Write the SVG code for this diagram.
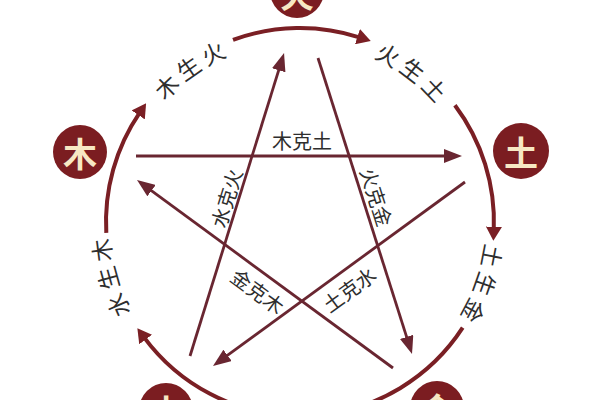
<svg xmlns="http://www.w3.org/2000/svg" width="600" height="400" viewBox="0 0 600 400">
<defs>
<style>
.ring{fill:none;stroke:#7a1f24;stroke-width:4;}
.star{fill:none;stroke:#692631;stroke-width:2.8;}
.node circle{fill:#7b1d21;}
.node text{font-family:"Noto Sans CJK SC",sans-serif;font-size:34px;font-weight:bold;fill:#f7e8c3;text-anchor:middle;dominant-baseline:central;}
.lbl{font-family:"Noto Sans CJK SC",sans-serif;font-size:20px;fill:#2e2e2e;text-anchor:middle;dominant-baseline:central;}
.rl{font-family:"Noto Sans CJK SC",sans-serif;font-size:23px;fill:#2e2e2e;letter-spacing:6px;dominant-baseline:central;}
</style>
<marker id="ra" markerUnits="userSpaceOnUse" markerWidth="14" markerHeight="16" refX="3" refY="8" orient="auto"><path d="M0,0 L14,8 L0,16 z" fill="#7a1f24"/></marker>
<marker id="sa" markerUnits="userSpaceOnUse" markerWidth="18" markerHeight="14" refX="4" refY="7" orient="auto"><path d="M0,0 L18,7 L0,14 z" fill="#692631"/></marker>
<path id="p1" d="M126.9,141.3 A191,191 0 0 1 283.3,31.7"/>
<path id="p2" d="M324.8,33.6 A190,190 0 0 1 475.5,149.3"/>
<path id="p3" d="M492.7,186.3 A196,196 0 0 1 427.3,371.0"/>
<path id="p4" d="M159.1,365.4 A201,201 0 0 1 105.4,171.7"/>
</defs>
<rect width="600" height="400" fill="#ffffff"/>
<g id="connectors">
<path class="ring" d="M106.3,232.8 A194,194 0 0 1 139.9,112.4" marker-end="url(#ra)"/>
<path class="ring" d="M233,39.9 A194,194 0 0 1 360.3,37.6" marker-end="url(#ra)"/>
<path class="ring" d="M454.9,105.3 A194,194 0 0 1 493.8,229.8" marker-end="url(#ra)"/>
<path class="ring" d="M462.7,327.7 A194,194 0 0 1 143.9,337.1" marker-end="url(#ra)"/>
<path class="star" d="M136,156 L448,156" marker-end="url(#sa)"/>
<path class="star" d="M318,58 L407.8,340.7" marker-end="url(#sa)"/>
<path class="star" d="M190,356 L279.9,66.4" marker-end="url(#sa)"/>
<path class="star" d="M393,368 L148.3,188.3" marker-end="url(#sa)"/>
<path class="star" d="M465,182 L224.3,357.7" marker-end="url(#sa)"/>
</g>
<g id="ring-labels">
<text class="rl"><textPath href="#p1" startOffset="50%" text-anchor="middle">木生火</textPath></text>
<text class="rl"><textPath href="#p2" startOffset="50%" text-anchor="middle">火生土</textPath></text>
<text class="rl"><textPath href="#p3" startOffset="50%" text-anchor="middle">土生金</textPath></text>
<text class="rl"><textPath href="#p4" startOffset="50%" text-anchor="middle">水生木</textPath></text>
</g>
<g id="star-labels">
<text class="lbl" x="302" y="140">木克土</text>
<text class="lbl" transform="translate(226,198) rotate(-72.8)">水克火</text>
<text class="lbl" transform="translate(377,197) rotate(72.4)">火克金</text>
<text class="lbl" transform="translate(258,291) rotate(36.3)">金克木</text>
<text class="lbl" transform="translate(349,289) rotate(-36.1)">土克水</text>
</g>
<g id="node-fire" class="node"><circle cx="297" cy="-9" r="27"/><text x="297" y="-7">火</text></g>
<g id="node-wood" class="node"><circle cx="80" cy="152" r="27"/><text x="80" y="152">木</text></g>
<g id="node-earth" class="node"><circle cx="521" cy="151" r="28"/><text x="521" y="151">土</text></g>
<g id="node-water" class="node"><circle cx="166" cy="410" r="27"/><text x="166" y="410">水</text></g>
<g id="node-metal" class="node"><circle cx="437" cy="408" r="27"/><text x="437" y="408">金</text></g>
</svg>
